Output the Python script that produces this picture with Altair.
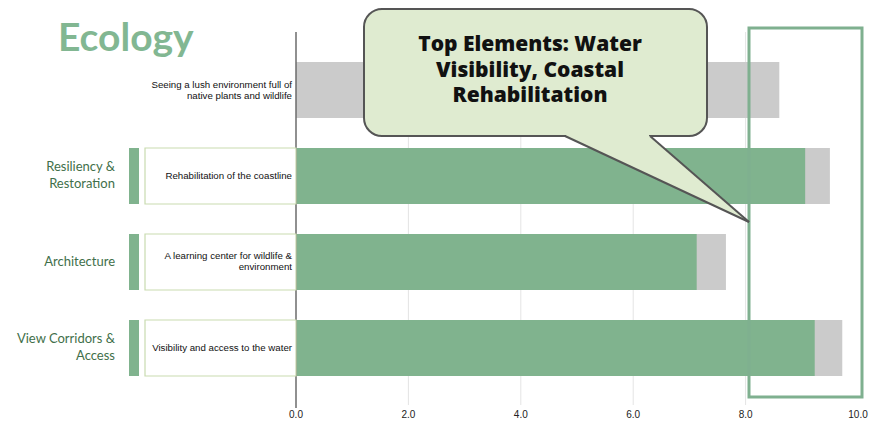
import altair as alt
import pandas as pd

# ---- data ----
items = [
    "Seeing a lush environment full of\nnative plants and wildlife",
    "Rehabilitation of the coastline",
    "A learning center for wildlife &\nenvironment",
    "Visibility and access to the water",
]
categories = ["", "Resiliency &\nRestoration", "Architecture", "View Corridors &\nAccess"]
total_scores = [8.6, 9.5, 7.65, 9.72]
green_scores = [None, 9.06, 7.13, 9.23]
tick_values = [0, 2, 4, 6, 8, 10]
grid_values = [2, 4, 6, 8]
title_text = "Ecology"
callout_text = "Top Elements: Water\nVisibility, Coastal\nRehabilitation"

W, H = 868, 418
HALF = 0.3256
ITEM_LH = 11
CAT_LH = 17

df = pd.DataFrame({
    "row": list(range(len(items))),
    "item": items,
    "category": categories,
    "total": total_scores,
    "green": green_scores,
})
df["y0"] = df["row"] - HALF
df["y1"] = df["row"] + HALF
df["zero"] = 0.0
df["item_multi"] = df["item"].str.contains("\n")
df["cat_multi"] = df["category"].str.contains("\n")
boxed = df[df["category"] != ""]

xs = alt.Scale(domain=[-5.1246, 10.3203], nice=False, zero=False)
ys = alt.Scale(domain=[-0.9535, 3.9070], nice=False, zero=False, reverse=True)

base = alt.Chart(df)

grid = alt.Chart(pd.DataFrame({"v": grid_values})).mark_rule(
    color="#e4e4e4", strokeWidth=1
).encode(
    x=alt.X("v:Q", scale=xs, axis=None),
    y=alt.value(24), y2=alt.value(397),
)

gray = base.mark_rect(color="#cbcbcb").encode(
    x=alt.X("zero:Q", scale=xs, axis=None), x2="total:Q",
    y=alt.Y("y0:Q", scale=ys, axis=None), y2="y1:Q",
)

green = alt.Chart(boxed).mark_rect(color="#80b38e").encode(
    x=alt.X("zero:Q", scale=xs, axis=None), x2="green:Q",
    y=alt.Y("y0:Q", scale=ys, axis=None), y2="y1:Q",
)

zero_line = alt.Chart(pd.DataFrame({"v": [0]})).mark_rule(
    color="#6b6b6b", strokeWidth=1.5
).encode(
    x=alt.X("v:Q", scale=xs, axis=None),
    y=alt.value(24), y2=alt.value(400),
)

highlight = alt.Chart(pd.DataFrame({"a": [0]})).mark_rect(
    fill=None, fillOpacity=0, stroke="#7fb08f", strokeWidth=3
).encode(
    x=alt.value(741), x2=alt.value(854),
    y=alt.value(20), y2=alt.value(389),
)

side_bar = alt.Chart(boxed).mark_rect(color="#80b38e").encode(
    x=alt.value(121), x2=alt.value(131),
    y=alt.Y("y0:Q", scale=ys, axis=None), y2="y1:Q",
)

label_box = alt.Chart(boxed).mark_rect(
    fill="white", stroke="#c9dbb0", strokeWidth=1.2
).encode(
    x=alt.value(137), x2=alt.value(288),
    y=alt.Y("y0:Q", scale=ys, axis=None), y2="y1:Q",
)


def item_layer(sub, dy):
    return alt.Chart(sub).mark_text(
        align="right", baseline="middle", font="Liberation Sans",
        fontSize=9.7, color="#111111", lineBreak="\n", lineHeight=ITEM_LH, dy=dy
    ).encode(
        x=alt.value(284),
        y=alt.Y("row:Q", scale=ys, axis=None),
        text="item:N",
    )


def cat_layer(sub, dy):
    return alt.Chart(sub).mark_text(
        align="right", baseline="middle", font="Lato",
        fontSize=13, color="#3f6f4a", lineBreak="\n", lineHeight=CAT_LH, dy=dy
    ).encode(
        x=alt.value(107),
        y=alt.Y("row:Q", scale=ys, axis=None),
        text="category:N",
    )


item_single = item_layer(df[~df["item_multi"]], 0)
item_multi = item_layer(df[df["item_multi"]], -ITEM_LH / 2)
cat_single = cat_layer(boxed[~boxed["cat_multi"]], 0)
cat_multi = cat_layer(boxed[boxed["cat_multi"]], -CAT_LH / 2)

title = alt.Chart(pd.DataFrame({"t": [title_text]})).mark_text(
    align="left", baseline="alphabetic", font="Lato", fontSize=39,
    fontWeight="bold", color="#82b792"
).encode(x=alt.value(50), y=alt.value(43), text="t:N")

callout_box = alt.Chart(pd.DataFrame({"a": [0]})).mark_rect(
    fill="#dfebd0", stroke="#555555", strokeWidth=2, cornerRadius=18
).encode(
    x=alt.value(356), x2=alt.value(699),
    y=alt.value(1), y2=alt.value(128),
)

tri = pd.DataFrame({
    "px": [557, 642, 741],
    "top": [128, 128, 214],
    "bot": [128, 167.7, 214],
})
pointer = alt.Chart(tri).mark_area(color="#dfebd0", opacity=1).encode(
    x=alt.X("px:Q", scale=None),
    y=alt.Y("top:Q", scale=None),
    y2="bot:Q",
)
erase = alt.Chart(pd.DataFrame({"a": [0]})).mark_rect(color="#dfebd0").encode(
    x=alt.value(558), x2=alt.value(641),
    y=alt.value(125.5), y2=alt.value(130),
)
side1 = alt.Chart(pd.DataFrame({"a": [0]})).mark_rule(
    color="#555555", strokeWidth=2
).encode(x=alt.value(557), y=alt.value(128), x2=alt.value(741), y2=alt.value(214))
side2 = alt.Chart(pd.DataFrame({"a": [0]})).mark_rule(
    color="#555555", strokeWidth=2
).encode(x=alt.value(642), y=alt.value(128), x2=alt.value(741), y2=alt.value(214))

callout_label = alt.Chart(pd.DataFrame({"t": [callout_text]})).mark_text(
    align="center", baseline="middle", font="Open Sans", fontSize=21,
    fontWeight=800, color="#111111", lineBreak="\n", lineHeight=25.5
).encode(x=alt.value(522), y=alt.value(37), text="t:N")

ticks = alt.Chart(pd.DataFrame({"v": tick_values})).mark_text(
    align="center", baseline="middle", font="Liberation Sans",
    fontSize=10, color="#222222"
).encode(
    x=alt.X("v:Q", scale=xs, axis=None),
    y=alt.value(407),
    text=alt.Text("v:Q", format=".1f"),
)

chart = alt.layer(
    grid, gray, green, zero_line, highlight, side_bar, label_box,
    item_single, item_multi, cat_single, cat_multi, title, ticks,
    callout_box, pointer, erase, side1, side2, callout_label,
).properties(
    width=W, height=H,
    autosize=alt.AutoSizeParams(type="none"),
    padding=0,
    background="white",
).configure_view(stroke=None)

chart.save("out.html", embed_options={"renderer": "svg", "actions": False})
